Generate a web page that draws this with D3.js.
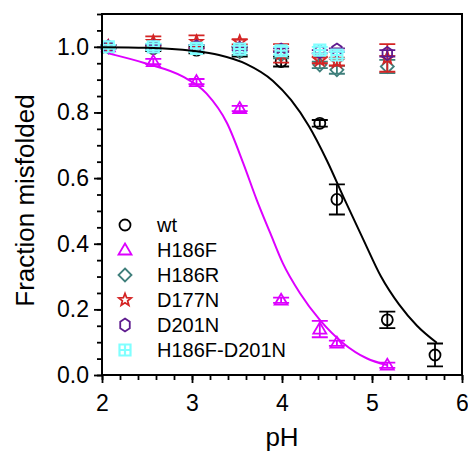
<!DOCTYPE html>
<html>
<head>
<meta charset="utf-8">
<script src="https://cdn.jsdelivr.net/npm/d3@7"></script>
<style>
  body { margin: 0; background: #fff; }
  svg { display: block; font-family: "Liberation Sans", Arial, sans-serif; }
</style>
</head>
<body>
<svg id="chart" width="468" height="452"></svg>
<script>
// --- data ---
const pH = [2.07, 2.57, 3.05, 3.53, 3.99, 4.42, 4.61, 5.17, 5.70];

const wt      = [1.000, 0.995, 0.990, 0.985, 0.955, 0.767, 0.535, 0.168, 0.061];
const wtErr   = [0.005, 0.008, 0.010, 0.015, 0.015, 0.010, 0.046, 0.025, 0.035];

const h186f    = [1.000, 0.955, 0.894, 0.812, 0.228, 0.140, 0.097, 0.030];
const h186fErr = [0.005, 0.008, 0.008, 0.008, 0.008, 0.025, 0.008, 0.008];

const h186r    = [1.000, 1.000, 0.995, 0.985, 0.975, 0.945, 0.930, 0.940];
const h186rErr = [0.005, 0.008, 0.010, 0.010, 0.010, 0.010, 0.012, 0.020];

const d177n    = [1.000, 1.015, 1.015, 1.015, 0.980, 0.960, 0.955, 0.966];
const d177nErr = [0.005, 0.017, 0.020, 0.008, 0.028, 0.010, 0.012, 0.042];

const d201n    = [1.000, 1.000, 1.000, 0.995, 0.990, 0.985, 0.990, 0.980];
const d201nErr = [0.005, 0.005, 0.005, 0.005, 0.005, 0.005, 0.005, 0.010];

const h186fD201n    = [1.000, 1.000, 0.995, 0.993, 0.988, 0.990, 0.975];
const h186fD201nErr = [0.006, 0.010, 0.010, 0.010, 0.012, 0.010, 0.010];

// fitted curves, sampled from the figure
const wtFitX = [2.0, 2.5, 3.0, 3.3, 3.6, 3.9, 4.1, 4.3, 4.5, 4.7, 4.9, 5.1, 5.3, 5.5, 5.72];
const wtFitY = [0.999, 0.997, 0.988, 0.975, 0.948, 0.896, 0.838, 0.758, 0.653, 0.532, 0.415, 0.300, 0.215, 0.150, 0.098];

const fFitX = [2.07, 2.48, 2.90, 3.16, 3.39, 3.57, 3.72, 3.87, 4.01, 4.20, 4.42, 4.68, 4.94, 5.17];
const fFitY = [0.980, 0.950, 0.909, 0.858, 0.767, 0.645, 0.533, 0.432, 0.340, 0.249, 0.168, 0.097, 0.051, 0.030];

const xTicks = [2, 3, 4, 5, 6];
const yTicks = [0.0, 0.2, 0.4, 0.6, 0.8, 1.0];

const series = [
    { name: "wt",          y: wt,         err: wtErr,         color: "#000000", shape: "circle" },
    { name: "H186F",       y: h186f,      err: h186fErr,      color: "#dd00ff", shape: "triangle" },
    { name: "H186R",       y: h186r,      err: h186rErr,      color: "#3f7f7b", shape: "diamond" },
    { name: "D177N",       y: d177n,      err: d177nErr,      color: "#d42424", shape: "star" },
    { name: "D201N",       y: d201n,      err: d201nErr,      color: "#5e1a8e", shape: "hexagon" },
    { name: "H186F-D201N", y: h186fD201n, err: h186fD201nErr, color: "#80ffff", shape: "square" }
];

// --- layout ---
const svg = d3.select("#chart");
const plotLeft = 102, plotRight = 462, plotTop = 14, plotBottom = 375;

const x = d3.scaleLinear().domain([2, 6]).range([plotLeft, plotRight]);
const y = d3.scaleLinear().domain([0, 1.1]).range([plotBottom, plotTop]);

// marker path generator
function markerPath(shape) {
    const p = d3.path();
    if (shape === "circle") {
        p.arc(0, 0, 5.5, 0, 2 * Math.PI);
    } else if (shape === "triangle") {
        p.moveTo(0, -6.5); p.lineTo(6.5, 4.5); p.lineTo(-6.5, 4.5); p.closePath();
    } else if (shape === "diamond") {
        p.moveTo(0, -6.5); p.lineTo(6.5, 0); p.lineTo(0, 6.5); p.lineTo(-6.5, 0); p.closePath();
    } else if (shape === "star") {
        for (let i = 0; i < 10; i++) {
            const r = i % 2 === 0 ? 6.5 : 2.8;
            const a = -Math.PI / 2 + i * Math.PI / 5;
            if (i === 0) p.moveTo(r * Math.cos(a), r * Math.sin(a));
            else p.lineTo(r * Math.cos(a), r * Math.sin(a));
        }
        p.closePath();
    } else if (shape === "hexagon") {
        for (let i = 0; i < 6; i++) {
            const a = -Math.PI / 2 + i * Math.PI / 3;
            if (i === 0) p.moveTo(5.5 * Math.cos(a), 6.5 * Math.sin(a));
            else p.lineTo(5.5 * Math.cos(a), 6.5 * Math.sin(a));
        }
        p.closePath();
    } else if (shape === "square") {
        p.rect(-5.5, -5.5, 11, 11);
        p.moveTo(0, -5.5); p.lineTo(0, 5.5);
        p.moveTo(-5.5, 0); p.lineTo(5.5, 0);
    }
    return p.toString();
}

// --- data layers ---
series.forEach(s => {
    const pts = s.y.map((v, i) => ({ x: pH[i], y: v, e: s.err[i] }));
    const g = svg.append("g").attr("stroke", s.color).attr("fill", "none").attr("stroke-width", 1.8);

    g.selectAll(".bar").data(pts).enter().append("path")
        .attr("d", d => {
            const cx = x(d.x), y1 = y(d.y + d.e), y2 = y(d.y - d.e);
            return `M${cx},${y1}V${y2}M${cx - 8},${y1}H${cx + 8}M${cx - 8},${y2}H${cx + 8}`;
        });

    g.selectAll(".pt").data(pts).enter().append("path")
        .attr("transform", d => `translate(${x(d.x)},${y(d.y)})`)
        .attr("d", markerPath(s.shape))
        .attr("stroke-width", s.shape === "square" ? 2.2 : 1.8);
});

// fit lines
const line = d3.line().x(d => x(d[0])).y(d => y(d[1])).curve(d3.curveMonotoneX);

svg.append("path")
    .datum(wtFitX.map((v, i) => [v, wtFitY[i]]))
    .attr("fill", "none").attr("stroke", "#000").attr("stroke-width", 2)
    .attr("d", line);

svg.append("path")
    .datum(fFitX.map((v, i) => [v, fFitY[i]]))
    .attr("fill", "none").attr("stroke", "#dd00ff").attr("stroke-width", 2)
    .attr("d", line);

// --- axes ---
const xAxis = svg.append("g").attr("transform", `translate(0,${plotBottom})`)
    .call(d3.axisBottom(x).tickValues(xTicks).tickSize(8).tickFormat(d3.format("d")));
svg.append("g").attr("transform", `translate(0,${plotBottom})`)
    .call(d3.axisBottom(x).tickValues(d3.range(2, 6.01, 0.2)).tickSize(5).tickFormat(""));

const yAxis = svg.append("g").attr("transform", `translate(${plotLeft},0)`)
    .call(d3.axisLeft(y).tickValues(yTicks).tickSize(8).tickFormat(d3.format(".1f")));
svg.append("g").attr("transform", `translate(${plotLeft},0)`)
    .call(d3.axisLeft(y).tickValues(d3.range(0, 1.101, 0.05)).tickSize(5).tickFormat(""));

svg.selectAll(".domain").remove();
svg.selectAll(".tick line").attr("stroke-width", 1.8);

xAxis.selectAll("text").attr("font-size", 23).attr("dy", "0.71em").attr("y", 20).attr("fill", "#000");
yAxis.selectAll("text").attr("font-size", 23).attr("x", -13).attr("fill", "#000");

// frame
svg.append("rect")
    .attr("x", plotLeft).attr("y", plotTop)
    .attr("width", plotRight - plotLeft).attr("height", plotBottom - plotTop)
    .attr("fill", "none").attr("stroke", "#000").attr("stroke-width", 2);

// axis titles
svg.append("text")
    .attr("x", (plotLeft + plotRight) / 2).attr("y", 446)
    .attr("text-anchor", "middle").attr("font-size", 26).text("pH");

svg.append("text")
    .attr("transform", `translate(34,${(plotTop + plotBottom) / 2 + 6}) rotate(-90)`)
    .attr("text-anchor", "middle").attr("font-size", 26).text("Fraction misfolded");

// --- legend ---
const legend = svg.append("g");
series.forEach((s, i) => {
    const ly = 225 + i * 25;
    legend.append("path")
        .attr("transform", `translate(125,${ly})`)
        .attr("d", markerPath(s.shape))
        .attr("fill", "none").attr("stroke", s.color)
        .attr("stroke-width", s.shape === "square" ? 2.2 : 1.8);
    legend.append("text")
        .attr("x", 157).attr("y", ly).attr("dy", "0.35em")
        .attr("font-size", 20).text(s.name);
});
</script>
</body>
</html>
